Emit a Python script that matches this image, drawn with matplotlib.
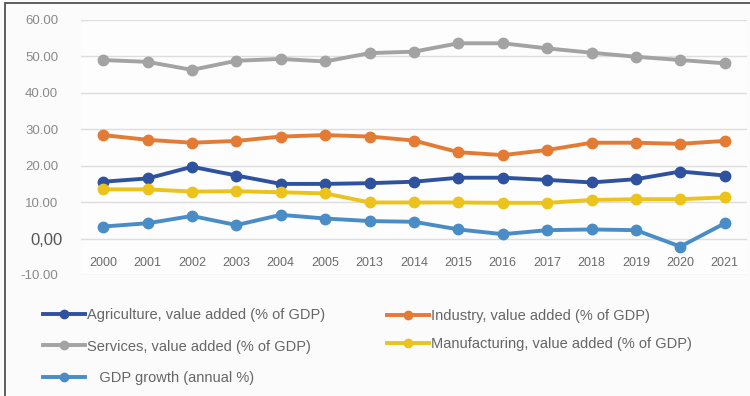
import numpy as np
import matplotlib
matplotlib.use("Agg")
import matplotlib.pyplot as plt
from matplotlib.patches import Rectangle

years = ["2000", "2001", "2002", "2003", "2004", "2005", "2013", "2014",
         "2015", "2016", "2017", "2018", "2019", "2020", "2021"]

agriculture = [15.6, 16.5, 19.7, 17.3, 15.0, 15.0, 15.2, 15.6, 16.7, 16.7, 16.1, 15.4, 16.3, 18.4, 17.3]
industry = [28.4, 27.1, 26.3, 26.8, 28.0, 28.4, 28.0, 26.9, 23.7, 22.9, 24.3, 26.3, 26.3, 26.0, 26.8]
services = [49.0, 48.5, 46.3, 48.8, 49.3, 48.6, 50.9, 51.3, 53.6, 53.6, 52.2, 51.0, 49.9, 49.0, 48.1]
manufacturing = [13.5, 13.5, 12.9, 13.0, 12.7, 12.4, 9.9, 9.9, 9.9, 9.8, 9.8, 10.6, 10.8, 10.8, 11.3]
gdp_growth = [3.3, 4.2, 6.2, 3.7, 6.5, 5.5, 4.8, 4.6, 2.5, 1.2, 2.3, 2.5, 2.3, -2.2, 4.2]

y_ticks = [-10, 0, 10, 20, 30, 40, 50, 60]

plt.rcParams['font.family'] = ['Liberation Sans', 'DejaVu Sans']

fig = plt.figure(figsize=(7.5, 3.96), dpi=100)
fig.patch.set_facecolor('#fbfbfb')
ax = fig.add_axes([0.108, 0.3056, 0.888, 0.644])
ax.set_facecolor('#fdfdfd')

# outer chart frame
fig.patches.append(Rectangle((5 / 750, -0.05), 1.1, 1 - 3 / 396 + 0.05,
                             transform=fig.transFigure, fill=False,
                             edgecolor='#444444', linewidth=1.2))

x = np.arange(len(years))
series = [
    ("Agriculture, value added (% of GDP)", agriculture, '#2f52a0'),
    ("Industry, value added (% of GDP)", industry, '#e47b35'),
    ("Services, value added (% of GDP)", services, '#a3a3a3'),
    ("Manufacturing, value added (% of GDP)", manufacturing, '#ecc31a'),
    ("   GDP growth (annual %)", gdp_growth, '#4a8dc6'),
]
lines = {}
for label, vals, col in series:
    ln, = ax.plot(x, vals, color=col, lw=2.8, marker='o', ms=7.5,
                  markeredgecolor=col, label=label, zorder=3)
    lines[label] = ln

ax.set_xlim(-0.5, len(years) - 0.5)
ax.set_ylim(-10, 60)
ax.set_yticks(y_ticks)
ylabels = []
for t in y_ticks:
    ylabels.append("0,00" if t == 0 else f"{t:.2f}")
ax.set_yticklabels(ylabels)
ax.tick_params(axis='y', length=0, pad=16.5, labelsize=9.5, labelcolor='#8a8a8a')
for lab in ax.get_yticklabels():
    if lab.get_text() == "0,00":
        lab.set_fontsize(12)
        lab.set_color('#555555')
        lab.set_x(0.0075)

# category labels sit just under the zero line
ax.spines['bottom'].set_position(('data', 0))
ax.set_xticks(x)
ax.set_xticklabels(years)
ax.tick_params(axis='x', length=0, pad=13, labelsize=9, labelcolor='#6a6a6a')

for s in ax.spines.values():
    s.set_visible(False)
ax.grid(axis='y', color='#dddddd', lw=1)
ax.set_axisbelow(True)

# legend in two columns, placed separately
left_keys = ["Agriculture, value added (% of GDP)", "Services, value added (% of GDP)",
             "   GDP growth (annual %)"]
right_keys = ["Industry, value added (% of GDP)", "Manufacturing, value added (% of GDP)"]
leg_kw = dict(loc='upper left', frameon=False, fontsize=10.5, handlelength=2.9,
              handletextpad=0.15, borderaxespad=0, borderpad=0, markerscale=0.8)
leg1 = fig.legend([lines[k] for k in left_keys], left_keys,
                  bbox_to_anchor=(43 / 750, 1 - 308 / 396), labelspacing=1.2, **leg_kw)
leg2 = fig.legend([lines[k] for k in right_keys], right_keys,
                  bbox_to_anchor=(387 / 750, 1 - 309 / 396), labelspacing=0.95, **leg_kw)
for leg in (leg1, leg2):
    for txt in leg.get_texts():
        txt.set_color('#666666')

fig.savefig("out.png", dpi=100, facecolor=fig.get_facecolor())
